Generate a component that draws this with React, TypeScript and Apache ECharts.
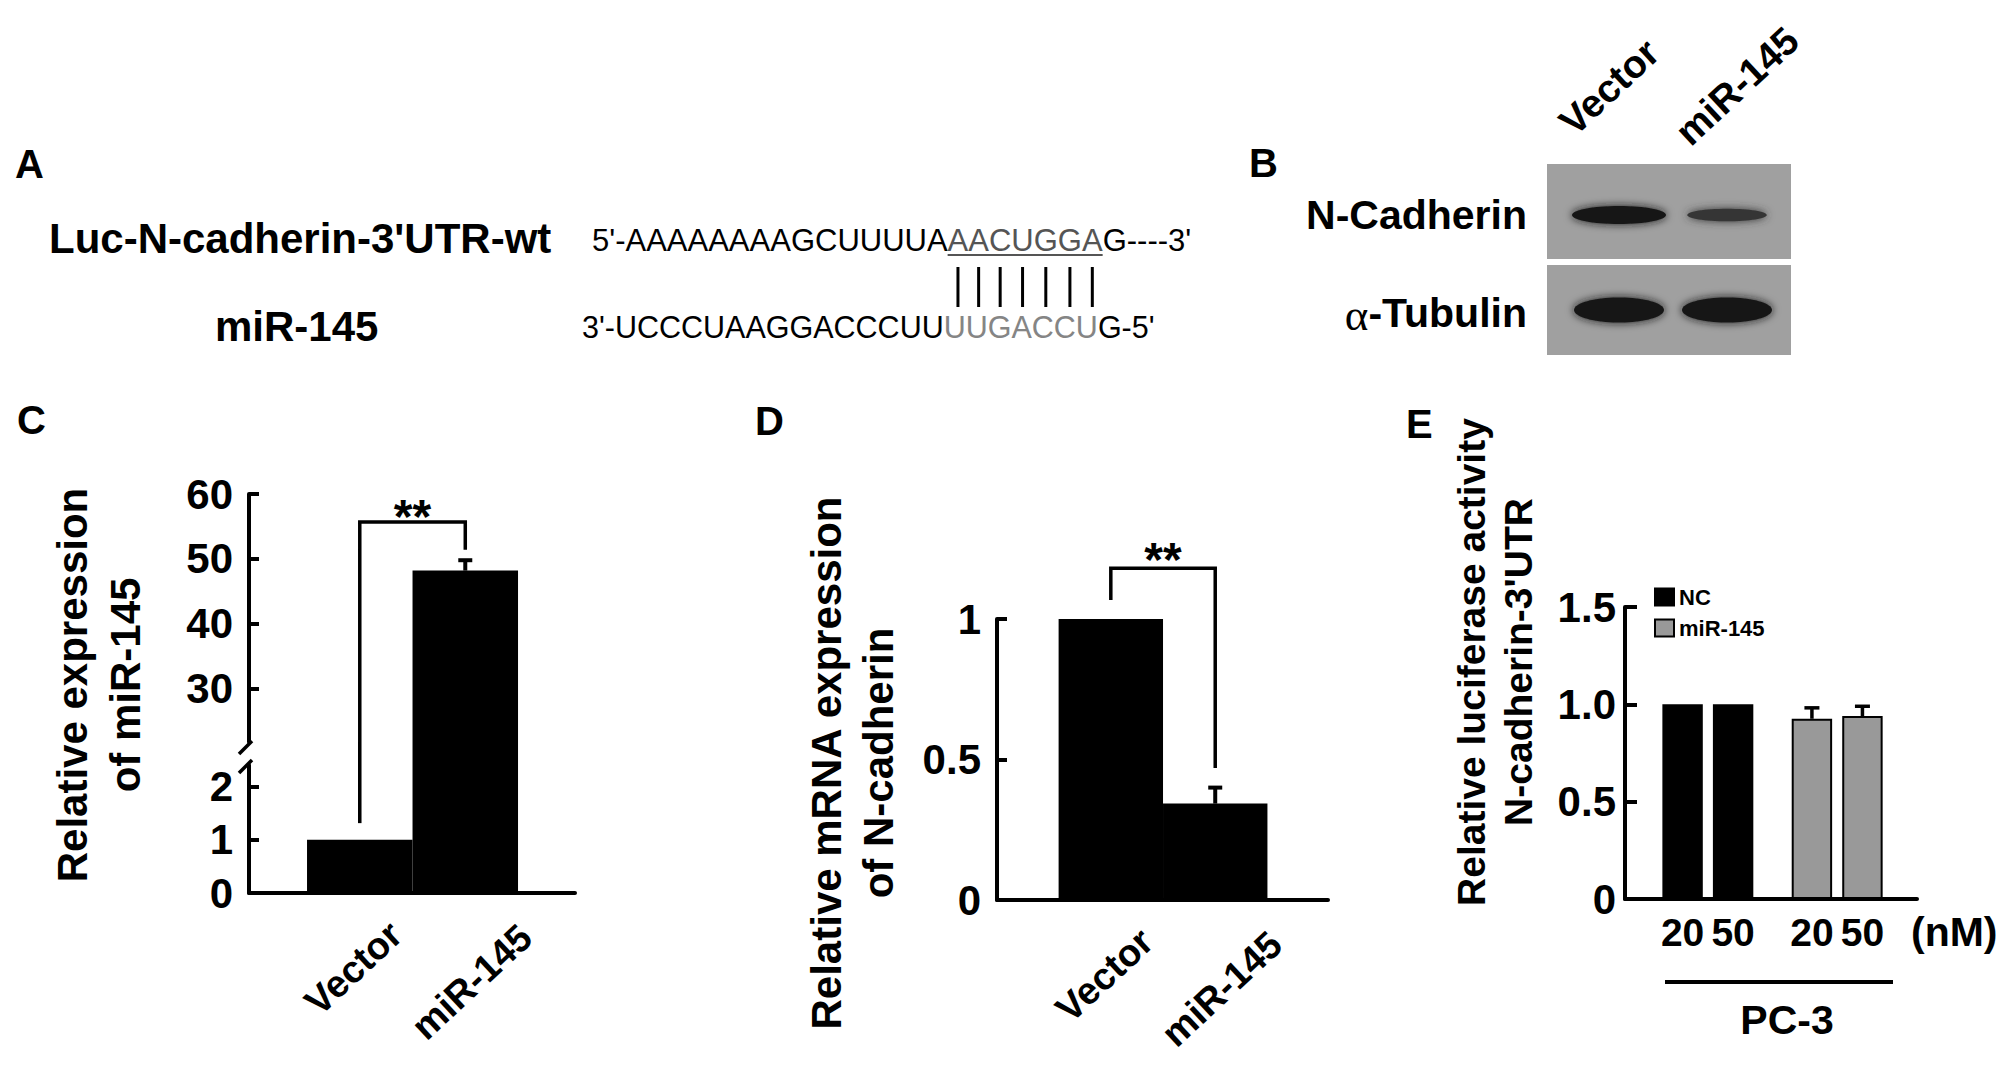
import React, { useEffect, useRef } from 'react';
import * as echarts from 'echarts';

const FONT = '"Liberation Sans", Arial, Helvetica, sans-serif';
const SERIF = '"Liberation Serif", "Times New Roman", serif';

// ================= DATA =================
// Panel A: sequence alignment
const aConstructName = "Luc-N-cadherin-3'UTR-wt";
const aMirName = 'miR-145';
const aTargetSeq = ["5'-AAAAAAAAGCUUUUA", 'AACUGGA', "G----3'"]; // before, seed match, after
const aMirSeq = ["3'-UCCCUAAGGACCCUU", 'UUGACCU', "G-5'"];

// Panel B: western blot
const bLanes = ['Vector', 'miR-145'];
const bProteins = ['N-Cadherin', 'α-Tubulin'];
const bBandIntensity = [
  [1.0, 0.45],
  [1.0, 1.0],
];

// Panel C: miR-145 expression (broken axis)
const cCategories = ['Vector', 'miR-145'];
const cValues = [1.0, 48.2];
const cErrors = [0, 1.6];
const cUpperTicks = [30, 40, 50, 60];
const cLowerTicks = [0, 1, 2];
const cBreak = [2.4, 21.8];
const cMax = 60;
const cSignificance = [0, 1, 1.31, 51.4, 55.7]; // from, to, left leg end, right leg end, bracket top
const cTitle = ['Relative expression', 'of miR-145'];

// Panel D: N-cadherin mRNA
const dCategories = ['Vector', 'miR-145'];
const dValues = [1.0, 0.343];
const dErrors = [0, 0.057];
const dTicks = [0, 0.5, 1];
const dMax = 1;
const dInterval = 0.5;
const dSignificance = [0, 1, 1.068, 0.47, 1.181];
const dTitle = ['Relative mRNA expression', 'of N-cadherin'];

// Panel E: luciferase activity
const eConcentrations = ['20', '50'];
const eGroups = ['NC', 'miR-145'];
const eValues = [
  [1.0, 1.0],
  [0.926, 0.94],
];
const eErrors = [
  [0, 0],
  [0.056, 0.05],
];
const eTicks = [0, 0.5, 1, 1.5];
const eMax = 1.5;
const eInterval = 0.5;
const eUnit = '(nM)';
const eCellLine = 'PC-3';
const eTitle = ['Relative luciferase activity', "N-cadherin-3'UTR"];

// ================= LAYOUT =================
const C = { left: 249, right: 575, top: 494, breakTop: 742, breakBottom: 765, bottom: 893, xMin: -1.05, xMax: 2.04 };
const D = { left: 997, right: 1328, top: 619, bottom: 900, xMin: -1.09, xMax: 2.08 };
const E = { left: 1625, right: 1917, top: 607, bottom: 899, xMin: -1.14, xMax: 4.64, groupStep: 2.56 };
const ePos = (g: number, c: number) => g * E.groupStep + c;
const LABEL_ROT = 43;
const TICK_FONT = 42;

const bold = (s: number) => `bold ${s}px ${FONT}`;
const regular = (s: number) => `${s}px ${FONT}`;

let measureCtx: CanvasRenderingContext2D | null = null;
function textWidth(t: string, font: string): number {
  if (!measureCtx) measureCtx = document.createElement('canvas').getContext('2d');
  if (!measureCtx) return t.length * 15;
  measureCtx.font = font;
  return measureCtx.measureText(t).width;
}

function txt(t: string, x: number, y: number, font: string, o: any = {}) {
  const align = o.align || 'left';
  const va = o.va || 'middle';
  const fill = o.fill || '#000';
  return {
    type: 'text',
    x,
    y,
    rotation: o.rotation || 0,
    silent: true,
    style: {
      text: t,
      font,
      fill,
      textFill: fill,
      align,
      verticalAlign: va,
      textAlign: align,
      textVerticalAlign: va,
    },
  };
}

function line(x1: number, y1: number, x2: number, y2: number, w: number, color = '#000') {
  return { type: 'line', silent: true, shape: { x1, y1, x2, y2 }, style: { stroke: color, lineWidth: w } };
}

function buildGraphics() {
  const els: any[] = [];
  // panel letters
  els.push(txt('A', 15, 164, bold(40)));
  els.push(txt('B', 1249, 163, bold(40)));
  els.push(txt('C', 17, 420, bold(40)));
  els.push(txt('D', 755, 421, bold(40)));
  els.push(txt('E', 1406, 424, bold(40)));

  // ---- Panel A ----
  els.push(txt(aConstructName, 49, 238, bold(42)));
  els.push(txt(aMirName, 215, 326, bold(42)));
  const seqRow = (parts: string[], x0: number, y: number, size: number, grey: string) => {
    const f = regular(size);
    let x = x0;
    const starts: number[] = [];
    parts.forEach((p, i) => {
      starts.push(x);
      els.push(txt(p, x, y, f, { fill: i === 1 ? grey : '#000' }));
      x += textWidth(p, f);
    });
    return { starts, font: f };
  };
  const top = seqRow(aTargetSeq, 592, 240, 31, '#555');
  seqRow(aMirSeq, 582, 327, 30.5, '#858585');
  const segStart = top.starts[1];
  const segW = textWidth(aTargetSeq[1], top.font);
  els.push(line(segStart, 255, segStart + segW, 255, 2, '#555'));
  for (let i = 0; i < aTargetSeq[1].length; i++) {
    const cx = segStart + textWidth(aTargetSeq[1].slice(0, i), top.font) + textWidth(aTargetSeq[1][i], top.font) / 2;
    els.push(line(cx, 267, cx, 307, 3));
  }

  // ---- Panel B ----
  const boxes = [
    { y: 164, h: 95, cy: 215 },
    { y: 265, h: 90, cy: 310 },
  ];
  const laneX = [1619, 1727];
  const rowBand = [
    { rx: 47, ry: 9 },
    { rx: 45, ry: 12.5 },
  ];
  boxes.forEach((b, r) => {
    els.push({ type: 'rect', silent: true, shape: { x: 1547, y: b.y, width: 244, height: b.h }, style: { fill: '#a0a0a0' } });
    bLanes.forEach((_, l) => {
      const I = bBandIntensity[r][l];
      const g = Math.round(22 + (1 - I) * 55);
      const col = `rgb(${g},${g},${g})`;
      els.push({
        type: 'ellipse',
        silent: true,
        shape: { cx: laneX[l], cy: b.cy, rx: rowBand[r].rx * (0.72 + 0.28 * I), ry: rowBand[r].ry * (0.45 + 0.55 * I) },
        style: { fill: col, shadowBlur: 9, shadowColor: col },
      });
    });
    const name = bProteins[r];
    if (name.startsWith('α')) {
      const rest = name.slice(1);
      const wRest = textWidth(rest, bold(41));
      els.push(txt(rest, 1527, b.cy + 3, bold(41), { align: 'right' }));
      els.push(txt('α', 1527 - wRest, b.cy + 5, `45px ${SERIF}`, { align: 'right' }));
    } else {
      els.push(txt(name, 1527, b.cy, bold(41), { align: 'right' }));
    }
  });
  const laneLabelPos = [
    [1609, 87],
    [1737, 86],
  ];
  bLanes.forEach((n, i) => {
    els.push(txt(n, laneLabelPos[i][0], laneLabelPos[i][1], bold(39), { align: 'center', rotation: (LABEL_ROT * Math.PI) / 180 }));
  });

  // ---- Y titles ----
  const titles: [string[], number[], number, number][] = [
    [cTitle, [72, 125], 685, 42],
    [dTitle, [826, 878], 763, 42],
    [eTitle, [1471, 1518], 662, 39],
  ];
  titles.forEach(([lines, xs, y, size]) => {
    lines.forEach((t, i) => els.push(txt(t, xs[i], y, bold(size), { align: 'center', rotation: Math.PI / 2 })));
  });

  // ---- C axis break marks ----
  els.push(line(C.left - 10, C.breakTop + 12, C.left + 3, C.breakTop - 1, 3.5));
  els.push(line(C.left - 10, C.breakBottom + 8, C.left + 3, C.breakBottom - 5, 3.5));

  // ---- E extras ----
  els.push(txt(eUnit, 1911, 932, bold(41)));
  els.push(line(1665, 982, 1893, 982, 4));
  els.push(txt(eCellLine, 1787, 1020, bold(41), { align: 'center' }));
  return els;
}

const errorBarRender = (capHalf: number, lw: number) => (params: any, api: any) => {
  const x = api.value(0);
  const v = api.value(1);
  const e = api.value(2);
  const b = api.coord([x, v]);
  const t = api.coord([x, v + e]);
  return {
    type: 'group',
    children: [
      { type: 'line', shape: { x1: b[0], y1: b[1], x2: t[0], y2: t[1] }, style: { stroke: '#000', lineWidth: lw } },
      { type: 'line', shape: { x1: t[0] - capHalf, y1: t[1], x2: t[0] + capHalf, y2: t[1] }, style: { stroke: '#000', lineWidth: lw } },
    ],
  };
};

const bracketRender = (range: number[], lw: number, labelDy: number) => (params: any, api: any) => {
  const x0 = api.value(0);
  const x1 = api.value(1);
  const yl = api.value(2);
  const yr = api.value(3);
  const yt = api.value(4);
  const lo = range[0];
  const hi = range[1];
  const cl = (v: number) => Math.max(lo, Math.min(hi, v));
  const l0 = api.coord([x0, cl(yl)]);
  const l1 = api.coord([x0, cl(yt)]);
  const r0 = api.coord([x1, cl(yr)]);
  const r1 = api.coord([x1, cl(yt)]);
  const children: any[] = [];
  const st = { stroke: '#000', lineWidth: lw, fill: 'none' };
  if (yt >= lo && yt <= hi) {
    children.push({ type: 'polyline', shape: { points: [l0, l1, r1, r0] }, style: { ...st, lineJoin: 'miter' } });
    children.push({
      type: 'text',
      style: {
        text: '**',
        x: (l1[0] + r1[0]) / 2,
        y: l1[1] + labelDy,
        font: bold(48),
        fill: '#000',
        textFill: '#000',
        align: 'center',
        verticalAlign: 'middle',
        textAlign: 'center',
        textVerticalAlign: 'middle',
      },
    });
  } else {
    if (Math.abs(l0[1] - l1[1]) > 0.5) children.push({ type: 'line', shape: { x1: l0[0], y1: l0[1], x2: l1[0], y2: l1[1] }, style: st });
    if (Math.abs(r0[1] - r1[1]) > 0.5) children.push({ type: 'line', shape: { x1: r0[0], y1: r0[1], x2: r1[0], y2: r1[1] }, style: st });
  }
  return { type: 'group', children };
};

const labelText = { color: '#000', fontFamily: FONT, fontWeight: 'bold' as const };

function xAxisHidden(gi: number, min: number, max: number) {
  return { type: 'value', gridIndex: gi, min, max, show: false, axisLine: { onZero: false } };
}

// rotated category labels: shorter labels sit a little higher (as in the source figure)
function rotatedRich(labels: string[], size: number) {
  const f = bold(size);
  const lens = labels.map((l) => textWidth(l, f));
  const avg = lens.reduce((a, b) => a + b, 0) / lens.length;
  const rich: any = {};
  labels.forEach((_, i) => {
    const b = 0.6 * (lens[i] - avg);
    rich['l' + i] = {
      fontSize: size,
      fontFamily: FONT,
      fontWeight: 'bold',
      color: '#000',
      padding: b < 0 ? [0, 0, -2 * b, 0] : [2 * b, 0, 0, 0],
    };
  });
  return rich;
}

function xAxisLabeled(gi: number, min: number, max: number, positions: number[], labels: string[], lw: number, lab: any, useRich = false) {
  return {
    type: 'value',
    gridIndex: gi,
    min,
    max,
    axisLine: { show: true, onZero: false, lineStyle: { color: '#000', width: lw } },
    axisTick: { show: false },
    splitLine: { show: false },
    axisLabel: {
      show: true,
      customValues: positions,
      formatter: (v: number) => {
        const i = positions.findIndex((p) => Math.abs(p - v) < 1e-6);
        if (i < 0) return '';
        return useRich ? `{l${i}|${labels[i]}}` : labels[i];
      },
      ...labelText,
      ...lab,
      ...(useRich ? { rich: rotatedRich(labels, lab.fontSize) } : {}),
    },
  };
}

function yAxisLabeled(gi: number, min: number, max: number, ticks: number[], lw: number, tickLen: number, margin: number, extra: any = {}) {
  return {
    type: 'value',
    gridIndex: gi,
    min,
    max,
    ...(extra.interval ? { interval: extra.interval } : {}),
    axisLine: { show: true, onZero: false, lineStyle: { color: '#000', width: lw } },
    axisTick: { show: true, inside: true, length: tickLen, customValues: ticks, lineStyle: { color: '#000', width: lw } },
    splitLine: { show: false },
    axisLabel: {
      show: true,
      customValues: ticks,
      margin,
      fontSize: TICK_FONT,
      ...labelText,
      ...(extra.formatter ? { formatter: extra.formatter } : {}),
    },
  };
}

function buildOption() {
  const cRanges = [
    [cBreak[1], cMax],
    [cBreak[0], cBreak[1]],
    [0, cBreak[0]],
  ];
  const cGridW = C.right - C.left;
  const grids = [
    { left: C.left, top: C.top, width: cGridW, height: C.breakTop - C.top },
    { left: C.left, top: C.breakTop, width: cGridW, height: C.breakBottom - C.breakTop },
    { left: C.left, top: C.breakBottom, width: cGridW, height: C.bottom - C.breakBottom },
    { left: D.left, top: D.top, width: D.right - D.left, height: D.bottom - D.top },
    { left: E.left, top: E.top, width: E.right - E.left, height: E.bottom - E.top },
  ].map((g) => ({ ...g, containLabel: false, outerBoundsMode: 'none', show: false }));

  const cIdx = cCategories.map((_, i) => i);
  const dIdx = dCategories.map((_, i) => i);
  const ePositions: number[] = [];
  const eLabels: string[] = [];
  eGroups.forEach((_, g) =>
    eConcentrations.forEach((c, k) => {
      ePositions.push(ePos(g, k));
      eLabels.push(c);
    })
  );

  const rotatedLab = { fontSize: 38, rotate: LABEL_ROT, align: 'center', verticalAlign: 'middle' };

  const xAxis = [
    xAxisHidden(0, C.xMin, C.xMax),
    xAxisHidden(1, C.xMin, C.xMax),
    xAxisLabeled(2, C.xMin, C.xMax, cIdx, cCategories, 4, { ...rotatedLab, margin: 82 }, true),
    xAxisLabeled(3, D.xMin, D.xMax, dIdx, dCategories, 4, { ...rotatedLab, margin: 82 }, true),
    xAxisLabeled(4, E.xMin, E.xMax, ePositions, eLabels, 4, { fontSize: 39, verticalAlign: 'middle', margin: 33 }),
  ];

  const yAxis = [
    yAxisLabeled(0, cBreak[1], cMax, cUpperTicks, 4, 10, 16),
    { type: 'value', gridIndex: 1, min: cBreak[0], max: cBreak[1], show: false, axisLine: { onZero: false } },
    yAxisLabeled(2, 0, cBreak[0], cLowerTicks, 4, 10, 16, { interval: 1 }),
    yAxisLabeled(3, 0, dMax, dTicks, 4, 10, 16, { interval: dInterval }),
    yAxisLabeled(4, 0, eMax, eTicks, 4, 12, 9, {
      interval: eInterval,
      formatter: (v: number) => (v === 0 ? '0' : v.toFixed(1)),
    }),
  ];

  const series: any[] = [];
  // Panel C
  [0, 1, 2].forEach((gi) => {
    series.push({
      type: 'bar',
      name: 'c-bars-' + gi,
      xAxisIndex: gi,
      yAxisIndex: gi,
      data: cValues.map((v, i) => [i, v]),
      barWidth: '100%',
      clip: true,
      silent: true,
      itemStyle: { color: '#000' },
    });
    series.push({
      type: 'custom',
      name: 'c-sig-' + gi,
      xAxisIndex: gi,
      yAxisIndex: gi,
      silent: true,
      data: [cSignificance],
      renderItem: bracketRender(cRanges[gi], 3.5, -5),
    });
  });
  series.push({
    type: 'custom',
    name: 'c-err',
    xAxisIndex: 0,
    yAxisIndex: 0,
    silent: true,
    data: cValues.map((v, i) => [i, v, cErrors[i]]).filter((d) => d[2] > 0),
    renderItem: errorBarRender(7, 4),
  });
  // Panel D
  series.push({
    type: 'bar',
    name: 'd-bars',
    xAxisIndex: 3,
    yAxisIndex: 3,
    data: dValues.map((v, i) => [i, v]),
    barWidth: '100%',
    silent: true,
    itemStyle: { color: '#000' },
  });
  series.push({
    type: 'custom',
    name: 'd-err',
    xAxisIndex: 3,
    yAxisIndex: 3,
    silent: true,
    data: dValues.map((v, i) => [i, v, dErrors[i]]).filter((d) => d[2] > 0),
    renderItem: errorBarRender(7, 4),
  });
  series.push({
    type: 'custom',
    name: 'd-sig',
    xAxisIndex: 3,
    yAxisIndex: 3,
    silent: true,
    data: [dSignificance],
    renderItem: bracketRender([-100, 100], 3.5, -9),
  });
  // Panel E
  const eColors = ['#000', '#999'];
  eGroups.forEach((g, gi) => {
    series.push({
      type: 'bar',
      name: g,
      xAxisIndex: 4,
      yAxisIndex: 4,
      data: eValues[gi].map((v, k) => [ePos(gi, k), v]),
      barWidth: '80%',
      barGap: '-100%',
      silent: true,
      itemStyle: { color: eColors[gi], borderColor: '#000', borderWidth: 2 },
    });
  });
  const eErrData: number[][] = [];
  eGroups.forEach((_, gi) =>
    eValues[gi].forEach((v, k) => {
      if (eErrors[gi][k] > 0) eErrData.push([ePos(gi, k), v, eErrors[gi][k]]);
    })
  );
  series.push({
    type: 'custom',
    name: 'e-err',
    xAxisIndex: 4,
    yAxisIndex: 4,
    silent: true,
    data: eErrData,
    renderItem: errorBarRender(7.5, 3.5),
  });

  return {
    animation: false,
    backgroundColor: '#fff',
    grid: grids,
    xAxis,
    yAxis,
    series,
    legend: {
      show: true,
      data: eGroups,
      orient: 'vertical',
      left: 1654,
      top: 586,
      itemWidth: 19,
      itemHeight: 17,
      itemGap: 9,
      icon: 'rect',
      selectedMode: false,
      padding: 0,
      textStyle: { color: '#000', fontFamily: FONT, fontWeight: 'bold', fontSize: 22 },
    },
    graphic: buildGraphics(),
  };
}

export default function App() {
  const ref = useRef<HTMLDivElement>(null);
  useEffect(() => {
    if (!ref.current) return;
    const chart = echarts.init(ref.current, undefined, { renderer: 'svg', width: 2008, height: 1065 });
    chart.setOption(buildOption() as any);
    return () => chart.dispose();
  }, []);
  return (
    <div
      ref={ref}
      style={{ position: 'absolute', left: 0, top: 0, width: 2008, height: 1065, background: '#fff' }}
    />
  );
}
